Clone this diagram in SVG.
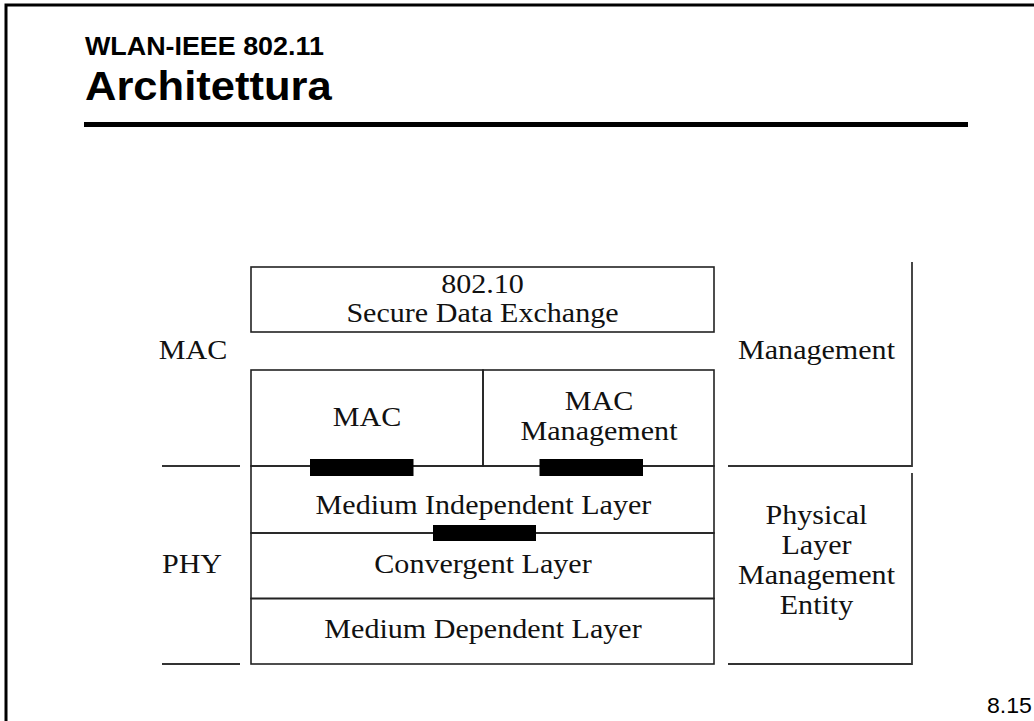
<svg xmlns="http://www.w3.org/2000/svg" width="1034" height="721" viewBox="0 0 1034 721">
<style>
.box{fill:none;stroke:#222;stroke-width:1.6}
.ln{stroke:#333;stroke-width:1.8;fill:none}
.t{font-family:"Liberation Serif","Times New Roman",serif;font-size:28px;fill:#111;text-anchor:middle}
.h{font-family:"Liberation Sans",Arial,sans-serif;font-weight:bold;fill:#000}
.sap{fill:#000}
</style>
<rect width="1034" height="721" fill="#fff"/>
<path d="M6,721 V5 H1034" fill="none" stroke="#000" stroke-width="3"/>
<g id="title">
<text class="h" font-size="25" transform="translate(85,55) scale(1.075,1)">WLAN-IEEE 802.11</text>
<text class="h" font-size="40.5" transform="translate(85,100) scale(1.075,1)">Architettura</text>
<rect x="84" y="122" width="884" height="5" fill="#000"/>
</g>
<g id="label-mac"><text class="t" transform="translate(193,359) scale(1.075,1)">MAC</text></g>
<g id="label-phy"><text class="t" transform="translate(192,573) scale(1.075,1)">PHY</text></g>
<g id="layer-separators">
<line class="ln" x1="162" y1="466" x2="240" y2="466"/>
<line class="ln" x1="162" y1="664" x2="240" y2="664"/>
</g>
<g id="secure-data-exchange">
<rect class="box" x="251" y="267" width="463" height="65"/>
<text class="t" transform="translate(482.5,293) scale(1.075,1)">802.10</text>
<text class="t" transform="translate(482.5,322) scale(1.075,1)">Secure Data Exchange</text>
</g>
<g id="mac">
<rect class="box" x="251" y="370" width="232" height="96"/>
<text class="t" transform="translate(367,426) scale(1.075,1)">MAC</text>
</g>
<g id="mac-management">
<rect class="box" x="483" y="370" width="231" height="96"/>
<text class="t" transform="translate(599,410) scale(1.075,1)">MAC</text>
<text class="t" transform="translate(599,440) scale(1.075,1)">Management</text>
</g>
<g id="medium-independent-layer">
<rect class="box" x="251" y="466" width="463" height="67"/>
<text class="t" transform="translate(483.5,514) scale(1.075,1)">Medium Independent Layer</text>
</g>
<g id="convergent-layer">
<rect class="box" x="251" y="533" width="463" height="65.5"/>
<text class="t" transform="translate(483,573) scale(1.075,1)">Convergent Layer</text>
</g>
<g id="medium-dependent-layer">
<rect class="box" x="251" y="598.5" width="463" height="65.5"/>
<text class="t" transform="translate(483,638) scale(1.075,1)">Medium Dependent Layer</text>
</g>
<g id="management">
<path class="ln" d="M912,262 V466 H728"/>
<text class="t" transform="translate(816.5,359) scale(1.075,1)">Management</text>
</g>
<g id="physical-layer-management-entity">
<path class="ln" d="M912,473 V664 H728"/>
<text class="t" transform="translate(816.5,524) scale(1.075,1)">Physical</text>
<text class="t" transform="translate(816.5,554) scale(1.075,1)">Layer</text>
<text class="t" transform="translate(816.5,584) scale(1.075,1)">Management</text>
<text class="t" transform="translate(816.5,614) scale(1.075,1)">Entity</text>
</g>
<g id="connectors">
<rect class="sap" x="310" y="459" width="103.5" height="17"/>
<rect class="sap" x="539.5" y="459" width="103.5" height="17"/>
<rect class="sap" x="433" y="525" width="103" height="16"/>
</g>
<g id="page-number">
<text font-family="'Liberation Sans',Arial,sans-serif" font-size="21.5" fill="#000" transform="translate(987,713) scale(1.075,1)">8.15</text>
</g>
</svg>
